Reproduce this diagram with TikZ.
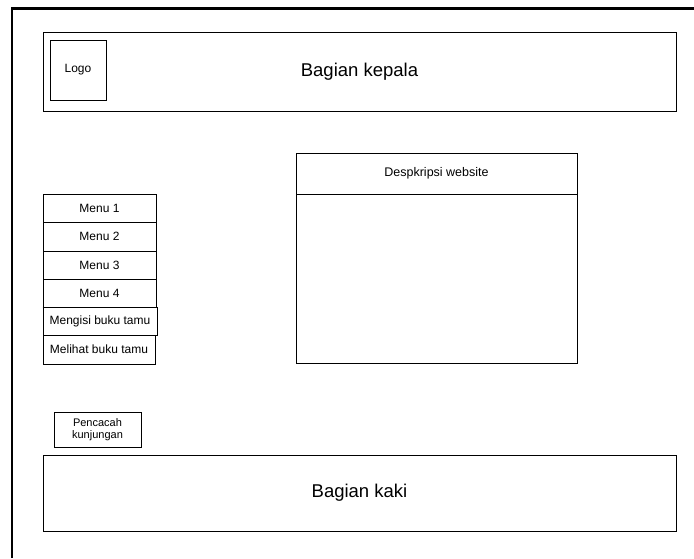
\documentclass[tikz,border=0pt]{standalone}
\usepackage{fontspec}
\setmainfont{Liberation Sans}
\begin{document}
\begin{tikzpicture}[x=1pt,y=-1pt,
  box/.style={draw=black,line width=0.9pt,rectangle,inner sep=0pt,align=center,fill=white},
  menuitem/.style={box,minimum width=113pt,minimum height=28pt,font=\fontsize{12}{14}\selectfont},
  frameline/.style={line width=2.4pt,black}]
\useasboundingbox (0,0) rectangle (694,558);
% page frame (open to the right and bottom)
\coordinate (fl) at (12,558);
\coordinate (fc) at (12,8.5);
\coordinate (fr) at (694,8.5);
\draw[frameline] (fl) -- (fc) -- (fr);
% header
\node[box,minimum width=633pt,minimum height=79pt,font=\fontsize{18.5}{22}\selectfont] (head) at (359.5,71.5) {Bagian kepala};
\node[box,minimum width=56pt,minimum height=60pt,font=\fontsize{12}{14}\selectfont] (logo) at (78,70) {Logo};
% menu column
\node[menuitem,minimum height=28.5pt] (m1) at (99.5,208.25) {Menu 1};
\node[menuitem,minimum height=28.5pt] (m2) at (99.5,236.75) {Menu 2};
\node[menuitem] (m3) at (99.5,265) {Menu 3};
\node[menuitem] (m4) at (99.5,293) {Menu 4};
\node[menuitem,minimum width=114pt] (m5) at (100,321) {Mengisi buku tamu};
\node[menuitem,minimum width=112pt,minimum height=29pt] (m6) at (99,349.5) {Melihat buku tamu};
\draw[line width=1.3pt] (m4.south west) -- (m4.south east);
% description panel
\node[box,minimum width=281pt,minimum height=41pt,font=\fontsize{12.5}{15}\selectfont] (desc) at (436.5,173.5) {Despkripsi website};
\node[box,minimum width=281pt,minimum height=169pt,anchor=north] (body) at (desc.south) {};
% visitor counter
\node[box,minimum width=87pt,minimum height=35pt,font=\fontsize{11}{12}\selectfont] (count) at (97.5,430) {Pencacah\\kunjungan};
% footer
\node[box,minimum width=633pt,minimum height=76pt,font=\fontsize{18.5}{22}\selectfont] (foot) at (359.5,493) {Bagian kaki};
\end{tikzpicture}
\end{document}
